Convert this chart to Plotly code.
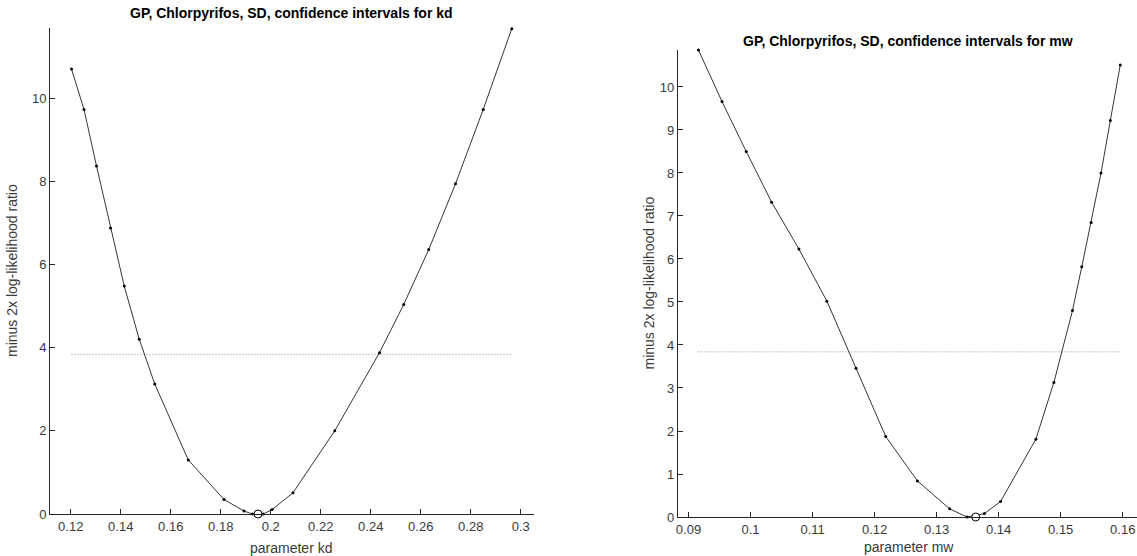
import plotly.graph_objects as go

# ---- data: kd profile ----
kd_values = [0.1203, 0.1253, 0.1303, 0.1359, 0.1414, 0.1474, 0.1536, 0.1670, 0.1813,
             0.1893, 0.1927, 0.1970, 0.2006, 0.2089, 0.2256, 0.2435, 0.2532, 0.2632,
             0.2739, 0.2850, 0.2964]
kd_llr = [10.70, 9.73, 8.37, 6.88, 5.48, 4.20, 3.125, 1.30, 0.35,
          0.07, 0.0, 0.0, 0.11, 0.51, 2.00, 3.88, 5.04, 6.36,
          7.94, 9.73, 11.67]
kd_best = [0.1949]
kd_best_llr = [0.0]

# ---- data: mw profile ----
mw_values = [0.0916, 0.0954, 0.0993, 0.1034, 0.1078, 0.1123, 0.1170, 0.1218, 0.1269,
             0.1321, 0.1349, 0.1377, 0.1403, 0.1460, 0.1489, 0.1519, 0.1534, 0.1549,
             0.1565, 0.1580, 0.1596]
mw_llr = [10.86, 9.66, 8.50, 7.32, 6.23, 5.02, 3.46, 1.87, 0.84,
          0.19, 0.0, 0.08, 0.36, 1.81, 3.13, 4.80, 5.82, 6.85,
          8.00, 9.22, 10.51]
mw_best = [0.1363]
mw_best_llr = [0.0]

chi2_crit = 3.84

kd_ticks = [0.12, 0.14, 0.16, 0.18, 0.2, 0.22, 0.24, 0.26, 0.28, 0.3]
kd_ticktext = ["0.12", "0.14", "0.16", "0.18", "0.2", "0.22", "0.24", "0.26", "0.28", "0.3"]
kd_yticks = [0, 2, 4, 6, 8, 10]
mw_ticks = [0.09, 0.1, 0.11, 0.12, 0.13, 0.14, 0.15, 0.16]
mw_ticktext = ["0.09", "0.1", "0.11", "0.12", "0.13", "0.14", "0.15", "0.16"]
mw_yticks = [0, 1, 2, 3, 4, 5, 6, 7, 8, 9, 10]

titles = ["GP, Chlorpyrifos, SD, confidence intervals for kd",
          "GP, Chlorpyrifos, SD, confidence intervals for mw"]
xlabels = ["parameter kd", "parameter mw"]
ylabel = "minus 2x log-likelihood ratio"

W, H = 1137, 556
FONT = "Liberation Sans, Arial, sans-serif"
AX = "#262626"
TXT = "#3a3a3a"

fig = go.Figure()

for i, (xs, ys, bx, by) in enumerate([(kd_values, kd_llr, kd_best, kd_best_llr),
                                      (mw_values, mw_llr, mw_best, mw_best_llr)]):
    xa = "x" if i == 0 else "x2"
    ya = "y" if i == 0 else "y2"
    fig.add_trace(go.Scatter(x=[xs[0], xs[-1]], y=[chi2_crit, chi2_crit], mode="lines",
                             line=dict(color="#8c8c8c", width=1, dash="1px,2px"),
                             xaxis=xa, yaxis=ya, showlegend=False, hoverinfo="skip"))
    fig.add_trace(go.Scatter(x=xs, y=ys, mode="lines+markers",
                             line=dict(color="black", width=0.8),
                             marker=dict(color="black", size=3),
                             xaxis=xa, yaxis=ya, showlegend=False, cliponaxis=False))
    fig.add_trace(go.Scatter(x=bx, y=by, mode="markers",
                             marker=dict(color="white", size=8, line=dict(color="black", width=1)),
                             xaxis=xa, yaxis=ya, showlegend=False, cliponaxis=False))

axis_common = dict(showgrid=False, zeroline=False, showline=True, linecolor=AX, linewidth=1,
                   ticks="inside", ticklen=5, tickcolor=AX, tickwidth=1, automargin=False,
                   ticklabeloverflow="allow",
                   tickfont=dict(family=FONT, size=13, color=TXT), mirror=False)

fig.update_layout(
    width=W, height=H, autosize=False,
    margin=dict(l=0, r=0, t=0, b=0, pad=0),
    paper_bgcolor="white", plot_bgcolor="white",
    xaxis=dict(domain=[50 / W, 534 / W], range=[0.1117, 0.3053], anchor="y",
               tickvals=kd_ticks, ticktext=kd_ticktext, **axis_common),
    yaxis=dict(domain=[1 - 514 / H, 1 - 28.3 / H], range=[0, 11.68], anchor="x",
               tickvals=kd_yticks, **axis_common),
    xaxis2=dict(domain=[677.8 / W, 1.0], range=[0.08827, 0.1623], anchor="y2",
                tickvals=mw_ticks, ticktext=mw_ticktext, **axis_common),
    yaxis2=dict(domain=[1 - 517 / H, 1 - 50 / H], range=[0, 10.86], anchor="x2",
                tickvals=mw_yticks, **axis_common),
)

annots = [
    dict(text="<b>" + titles[0] + "</b>", x=291 / W, y=1 - 13 / H, size=14),
    dict(text="<b>" + titles[1] + "</b>", x=908 / W, y=1 - 40.7 / H, size=14),
    dict(text=xlabels[0], x=291 / W, y=1 - 548 / H, size=14),
    dict(text=xlabels[1], x=909 / W, y=1 - 546.7 / H, size=14),
    dict(text=ylabel, x=12 / W, y=1 - 271 / H, size=14, angle=-90),
    dict(text=ylabel, x=648 / W, y=1 - 283.5 / H, size=14, angle=-90),
]
for a in annots:
    fig.add_annotation(xref="paper", yref="paper", showarrow=False,
                       xanchor="center", yanchor="middle",
                       text=a["text"], x=a["x"], y=a["y"],
                       textangle=a.get("angle", 0),
                       font=dict(family=FONT, size=a["size"],
                                 color="black" if "<b>" in a["text"] else TXT))

fig.write_html("out.html", config={"displayModeBar": False},
               post_script="document.body.style.margin='0';document.body.style.overflow='hidden';")
